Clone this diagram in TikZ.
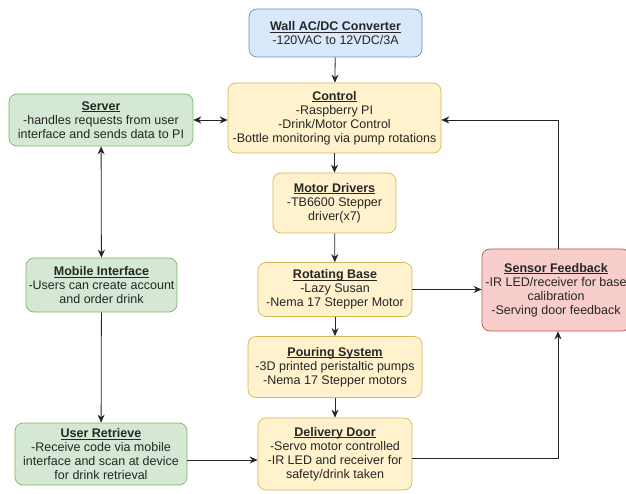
\documentclass[tikz,border=0pt]{standalone}
\usepackage{fontspec}
\setmainfont{Liberation Sans}
\usetikzlibrary{arrows.meta}
\definecolor{bluef}{HTML}{DAE8FC}\definecolor{blued}{HTML}{6C8EBF}
\definecolor{yelf}{HTML}{FFF2CC}\definecolor{yeld}{HTML}{D6B656}
\definecolor{grnf}{HTML}{D5E8D4}\definecolor{grnd}{HTML}{82B366}
\definecolor{redf}{HTML}{F8CECC}\definecolor{redd}{HTML}{B85450}
\newcommand{\ttl}[1]{\setbox0\hbox{\textbf{#1}}\rlap{\rule[-1.7pt]{\wd0}{0.6pt}}\box0}
\tikzset{
  box/.style={rounded corners=8pt, line width=0.7pt, align=center, inner sep=0pt,
    font=\fontsize{12.5}{14}\selectfont, text=black!85},
  bluebox/.style={box, fill=bluef, draw=blued},
  yelbox/.style={box, fill=yelf, draw=yeld},
  grnbox/.style={box, fill=grnf, draw=grnd},
  redbox/.style={box, fill=redf, draw=redd},
  conn/.style={line width=0.8pt, draw=black!85, -{Stealth[length=8pt,width=7pt]}},
  dconn/.style={line width=0.8pt, draw=black!85, {Stealth[length=8pt,width=7pt]}-{Stealth[length=8pt,width=7pt]}}
}
\begin{document}
\begin{tikzpicture}[x=1pt,y=-1pt]
\useasboundingbox (0,0) rectangle (626,494);
\node[bluebox, minimum width=173pt, minimum height=48pt] (wall) at (335.5,33) {\ttl{Wall AC/DC Converter}\\-120VAC to 12VDC/3A};
\node[yelbox, minimum width=213pt, minimum height=70pt] (ctrl) at (334.5,118) {\ttl{Control}\\-Raspberry PI\\-Drink/Motor Control\\-Bottle monitoring via pump rotations};
\node[yelbox, minimum width=123pt, minimum height=60pt] (motor) at (334.5,203) {\ttl{Motor Drivers}\\-TB6600 Stepper\\driver(x7)};
\node[yelbox, minimum width=154pt, minimum height=54pt] (rot) at (335,289.5) {\ttl{Rotating Base}\\-Lazy Susan\\-Nema 17 Stepper Motor};
\node[yelbox, minimum width=174pt, minimum height=61pt] (pour) at (335,367) {\ttl{Pouring System}\\-3D printed peristaltic pumps\\-Nema 17 Stepper motors};
\node[yelbox, minimum width=154pt, minimum height=72pt] (door) at (335,454) {\ttl{Delivery Door}\\-Servo motor controlled\\-IR LED and receiver for\\safety/drink taken};
\node[grnbox, minimum width=184pt, minimum height=52pt] (server) at (101,120) {\ttl{Server}\\-handles requests from user\\interface and sends data to PI};
\node[grnbox, minimum width=151pt, minimum height=54pt] (mobile) at (101.5,285) {\ttl{Mobile Interface}\\-Users can create account\\and order drink};
\node[grnbox, minimum width=172pt, minimum height=62pt] (user) at (101,454) {\ttl{User Retrieve}\\-Receive code via mobile\\interface and scan at device\\for drink retrieval};
\node[redbox, minimum width=148pt, minimum height=82pt] (sensor) at (556,290) {\ttl{Sensor Feedback}\\-IR LED/receiver for base\\calibration\\-Serving door feedback};
\coordinate (sUp) at (558,120);
\coordinate (sDn) at (558,458);
\draw[conn] (wall) -- (ctrl);
\draw[conn] (ctrl) -- (motor);
\draw[conn] (motor) -- (rot);
\draw[conn] (rot) -- (pour);
\draw[conn] (pour) -- (door);
\draw[dconn] (server.east) -- (server.east -| ctrl.west);
\draw[dconn] (server) -- (mobile);
\draw[conn] (mobile) -- (user);
\draw[conn] (user.east |- 0,460) -- (door.west |- 0,460);
\draw[conn] (rot.east) -- (rot.east -| sensor.west);
\draw[conn] (sensor.north -| sUp) -- (sUp) -- (sUp -| ctrl.east);
\draw[conn] (door.east |- sDn) -- (sDn) -- (sensor.south -| sDn);
\end{tikzpicture}
\end{document}
